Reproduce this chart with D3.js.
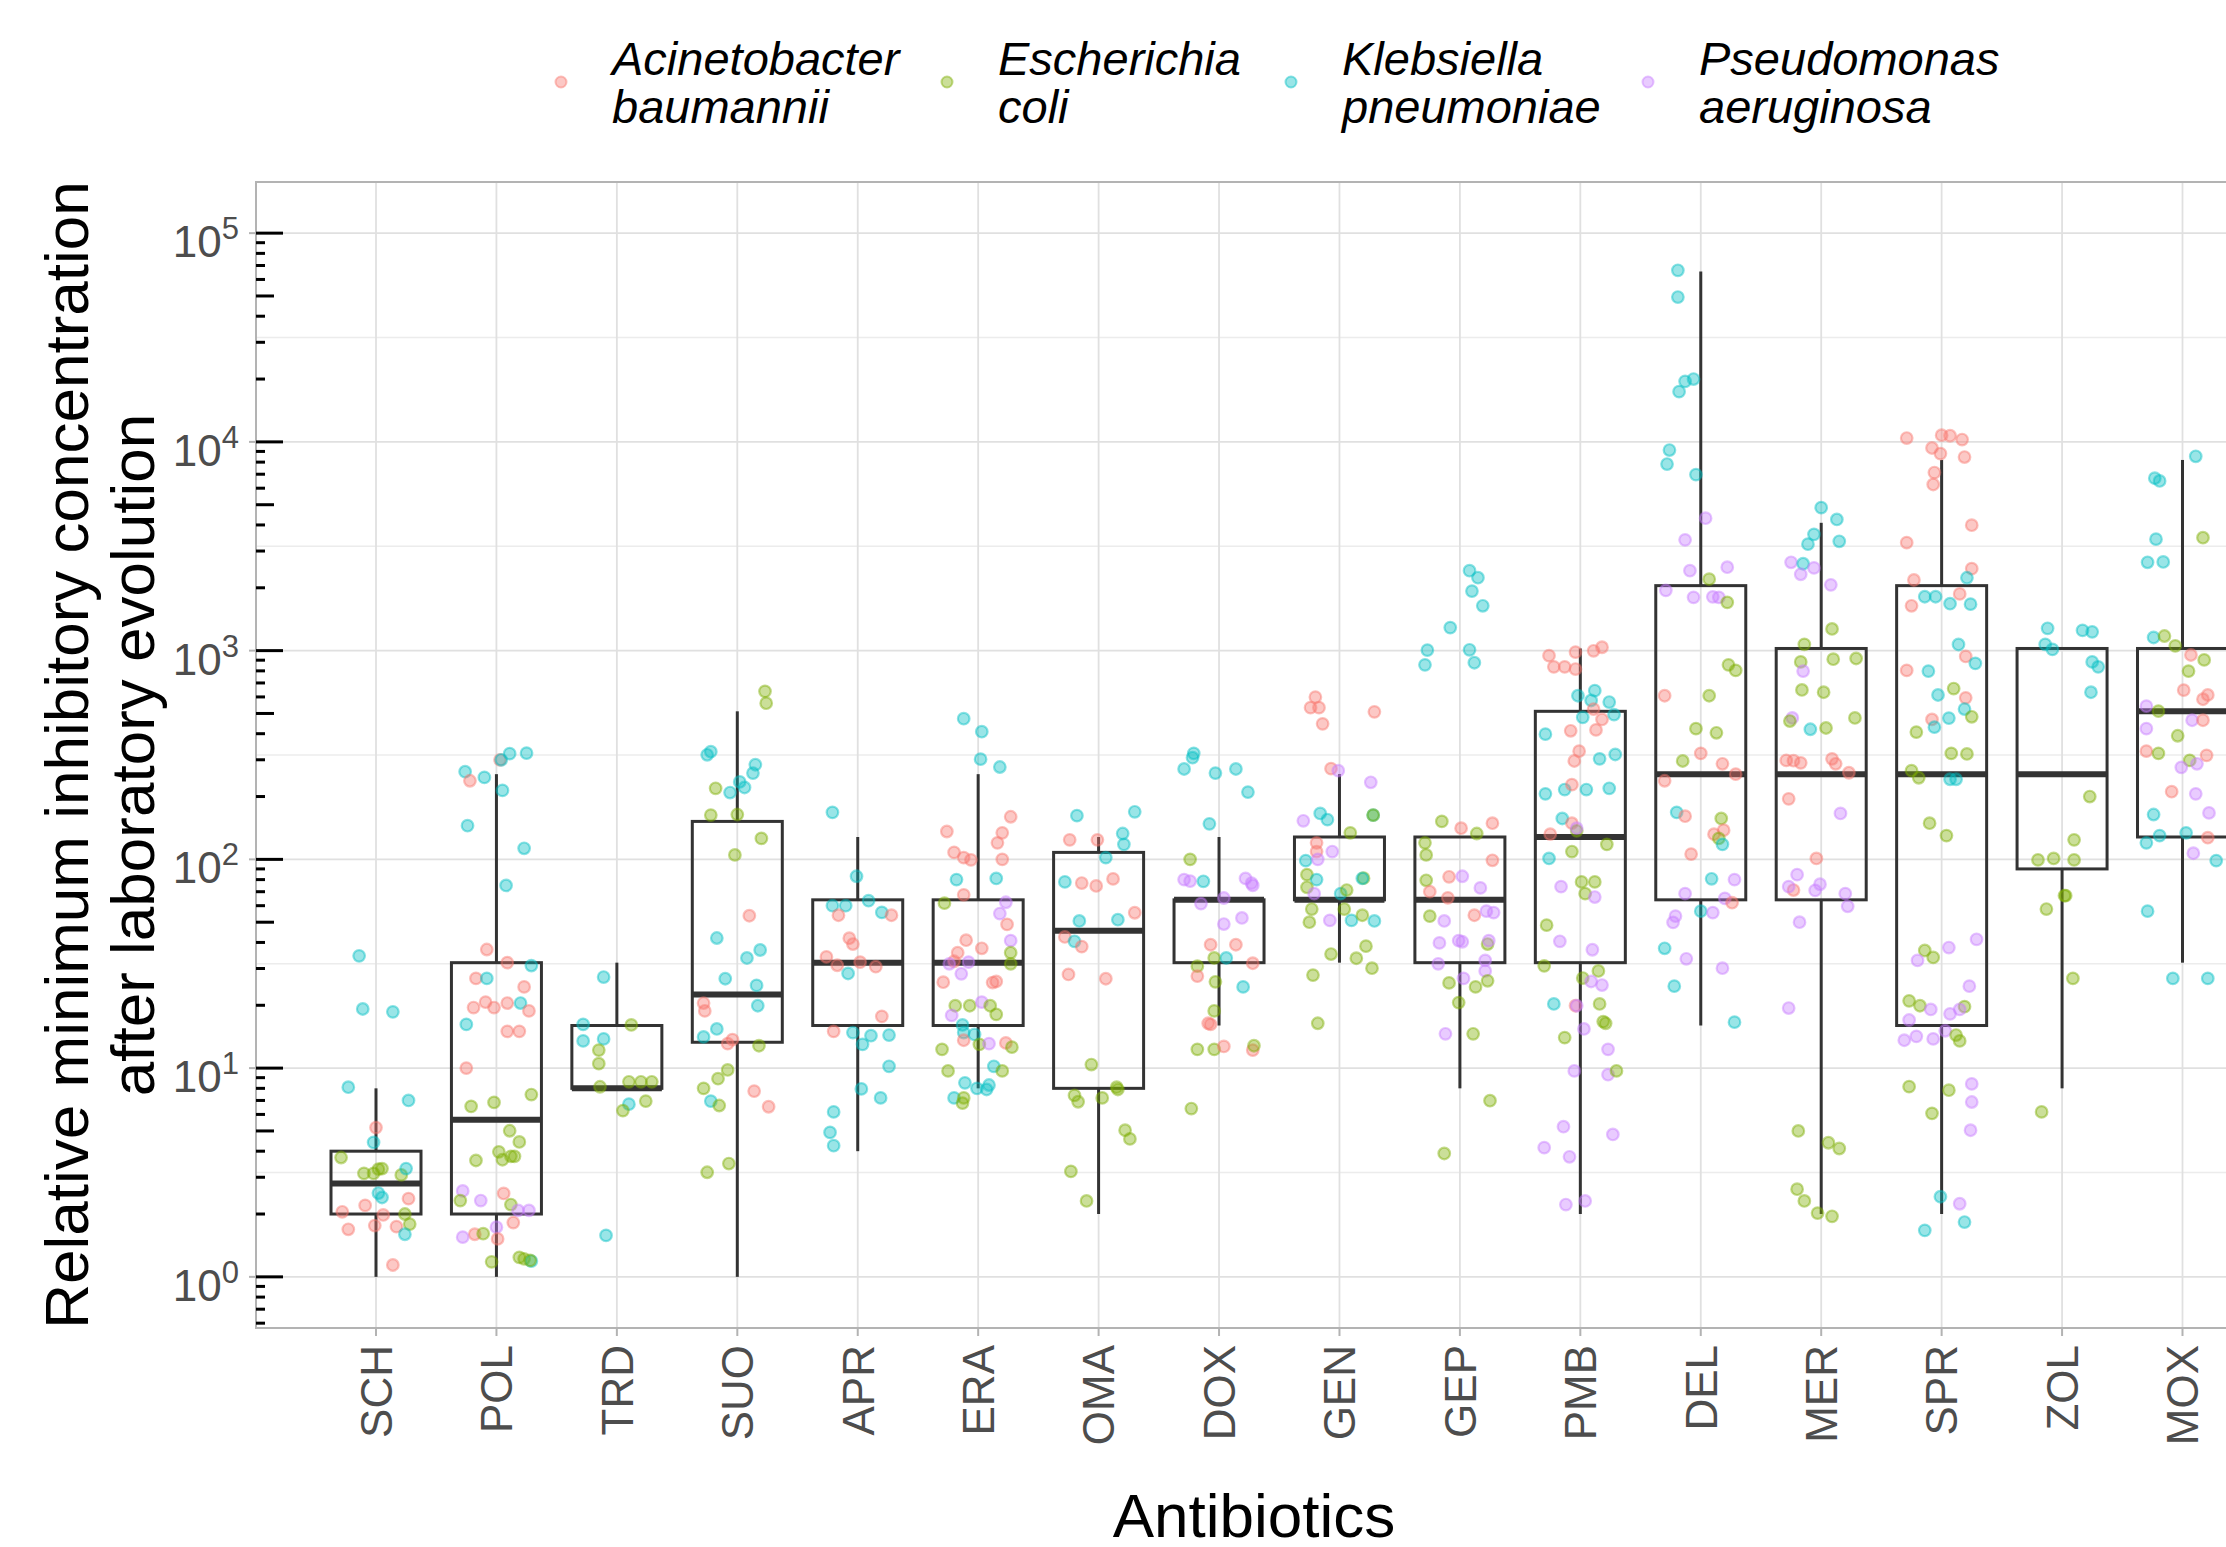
<!DOCTYPE html>
<html>
<head>
<meta charset="utf-8">
<script src="https://cdn.jsdelivr.net/npm/d3@7"></script>
<style>
    body { margin: 0; background: #fff; }
    svg { display: block; font-family: "Liberation Sans", Arial, sans-serif; }
</style>
</head>
<body>
<div id="chart"></div>
<script>
const antibiotics = ['SCH', 'POL', 'TRD', 'SUO', 'APR', 'ERA', 'OMA', 'DOX',
    'GEN', 'GEP', 'PMB', 'DEL', 'MER', 'SPR', 'ZOL', 'MOX']

// box statistics
const lowerWhisker = [1, 1, 8, 1, 4, 8, 2, 16, 32, 8, 2, 16, 2, 2, 8, 32]
const lowerQuartile = [2, 2, 8, 13.3, 16, 16, 8, 32, 64, 32, 32, 64, 64, 16, 90, 128]
const medians = [2.8, 5.66, 8, 22.5, 32, 32, 45.5, 64, 64, 64, 128, 256, 256, 256, 256, 512]
const upperQuartile = [4, 32, 16, 152, 64, 64, 108, 64, 128, 128, 512, 2048, 1024, 2048, 1024, 1024]
const upperWhisker = [8, 256, 32, 512, 128, 256, 128, 128, 256, 128, 1024, 65536, 4096, 8192, 1024, 8192]

const speciesKeys = ['A', 'E', 'K', 'P']
const speciesNames = [['Acinetobacter', 'baumannii'], ['Escherichia', 'coli'],
    ['Klebsiella', 'pneumoniae'], ['Pseudomonas', 'aeruginosa']]
const speciesColors = ['#F8766D', '#7CAE00', '#00BFC4', '#C77CFF']

// [species, relative MIC, jitter offset in category units]
const pointsSCH = [['K', 34.5, -0.14], ['K', 19.2, -0.11], ['K', 18.6, 0.14], ['K', 8.1, -0.23], ['K', 7.0, 0.27],
    ['A', 5.19, 0], ['K', 4.41, -0.02], ['E', 3.73, -0.29], ['E', 3.13, -0.10], ['E', 3.28, 0.02], ['E', 3.3, 0.05],
    ['E', 3.13, -0.02], ['E', 3.08, 0.21], ['K', 3.3, 0.25], ['K', 2.52, 0.02], ['K', 2.4, 0.05], ['A', 2.05, -0.28],
    ['A', 2.2, -0.09], ['A', 2.37, 0.27], ['A', 1.98, 0.06], ['A', 1.69, -0.23], ['A', 1.76, -0.01], ['A', 1.74, 0.17],
    ['E', 2.0, 0.24], ['E', 1.79, 0.28], ['K', 1.6, 0.24], ['A', 1.14, 0.14]]
const pointsPOL = [['K', 263, -0.26], ['A', 238, -0.22], ['K', 247, -0.10], ['A', 300, 0.03], ['K', 300, 0.04],
    ['K', 321, 0.11], ['K', 323, 0.25], ['K', 214, 0.05], ['K', 145, -0.24], ['K', 113, 0.23], ['K', 75, 0.08],
    ['A', 37, -0.08], ['A', 32, 0.09], ['K', 31, 0.29], ['A', 26.9, -0.17], ['K', 26.9, -0.08], ['A', 24.5, 0.23],
    ['A', 19.5, -0.19], ['A', 20.7, -0.09], ['A', 19.5, -0.02], ['A', 20.5, 0.09], ['K', 20.5, 0.2], ['A', 18.8, 0.27],
    ['K', 16.2, -0.25], ['A', 15, 0.09], ['A', 15, 0.19], ['A', 10, -0.25], ['E', 6.56, -0.21], ['E', 6.85, -0.02],
    ['E', 7.47, 0.29], ['E', 5.01, 0.11], ['E', 4.43, 0.19], ['E', 3.61, -0.17], ['E', 3.97, 0.02], ['E', 3.78, 0.12],
    ['E', 3.78, 0.15], ['E', 3.64, 0.05], ['P', 2.58, -0.28], ['A', 2.51, 0.06], ['E', 2.32, -0.30], ['P', 2.32, -0.13],
    ['E', 2.22, 0.12], ['P', 2.08, 0.18], ['P', 2.08, 0.27], ['A', 1.82, 0.14], ['P', 1.73, 0], ['A', 1.6, -0.18],
    ['E', 1.61, -0.11], ['P', 1.55, -0.28], ['A', 1.52, 0.01], ['E', 1.18, -0.04], ['E', 1.24, 0.19], ['E', 1.22, 0.23],
    ['K', 1.19, 0.29], ['E', 1.2, 0.28]]
const pointsTRD = [['K', 27.3, -0.11], ['K', 16.2, -0.28], ['E', 16.1, 0.12], ['K', 13.5, -0.28], ['K', 13.8, -0.11],
    ['E', 12.2, -0.15], ['E', 10.5, -0.15], ['E', 8.14, -0.14], ['E', 8.6, 0.10], ['E', 8.6, 0.2], ['E', 8.6, 0.29],
    ['E', 6.95, 0.24], ['K', 6.72, 0.10], ['E', 6.26, 0.05], ['K', 1.58, -0.09]]
const pointsSUO = [['E', 638, 0.23], ['E', 560, 0.24], ['K', 317, -0.25], ['K', 328, -0.22], ['K', 284, 0.15],
    ['K', 259, 0.13], ['E', 219, -0.18], ['K', 209, -0.06], ['K', 235, 0.02], ['K', 221, 0.06], ['E', 163, -0.22],
    ['E', 164, 0], ['E', 126, 0.20], ['E', 105, -0.02], ['A', 53.7, 0.10], ['K', 42, -0.17], ['K', 36.8, 0.19],
    ['K', 33.7, 0.08], ['K', 26.8, -0.10], ['K', 24.9, 0.16], ['A', 20.5, -0.28], ['A', 18.8, -0.27], ['K', 19.9, 0.17],
    ['K', 15.4, -0.17], ['K', 14.1, -0.28], ['A', 13.7, -0.04], ['A', 13.1, -0.08], ['E', 12.8, 0.18], ['E', 9.8, -0.08],
    ['E', 8.9, -0.16], ['E', 8.0, -0.28], ['K', 6.95, -0.22], ['E', 6.62, -0.15], ['A', 7.76, 0.14], ['A', 6.53, 0.26],
    ['E', 3.17, -0.25], ['E', 3.49, -0.07]]
const pointsAPR = [['K', 168, -0.21], ['K', 83, -0.01], ['K', 60, -0.21], ['K', 60, -0.10], ['K', 63.4, 0.09],
    ['K', 55.7, 0.20], ['A', 54, -0.16], ['A', 54, 0.28], ['A', 41.9, -0.07], ['A', 39.3, -0.04], ['A', 34.1, -0.26],
    ['A', 31.1, -0.17], ['A', 32.2, 0.02], ['A', 30.6, 0.15], ['K', 28.4, -0.08], ['A', 17.7, 0.20], ['A', 15, -0.20],
    ['K', 14.8, -0.04], ['K', 13, 0.04], ['K', 14.3, 0.11], ['K', 14.4, 0.26], ['K', 10.2, 0.26], ['K', 7.95, 0.03],
    ['K', 7.2, 0.19], ['K', 6.17, -0.20], ['K', 4.92, -0.23], ['K', 4.25, -0.20]]
const pointsERA = [['K', 472, -0.12], ['K', 409, 0.03], ['K', 302, 0.02], ['K', 277, 0.18], ['A', 160, 0.27],
    ['A', 136, -0.26], ['A', 134, 0.20], ['A', 120, 0.16], ['A', 108, -0.20], ['A', 102, -0.12], ['A', 99.5, -0.06],
    ['A', 100, 0.20], ['K', 80, -0.18], ['K', 81, 0.15], ['A', 67.6, -0.12], ['E', 61.7, -0.28], ['P', 62.3, 0.23],
    ['P', 55, 0.18], ['A', 48.8, 0.24], ['A', 41, -0.10], ['P', 40.8, 0.27], ['A', 37.5, 0.03], ['A', 35.7, -0.17],
    ['E', 35.7, 0.27], ['A', 32.5, -0.20], ['P', 31.6, -0.24], ['P', 32.2, -0.08], ['P', 28.3, -0.14], ['E', 31.6, 0.27],
    ['A', 25.8, -0.29], ['A', 25.7, 0.12], ['A', 26, 0.15], ['E', 19.9, -0.19], ['E', 19.9, -0.07], ['P', 20.7, 0.03],
    ['E', 19.9, 0.10], ['P', 17.9, -0.22], ['E', 18.1, 0.15], ['K', 16.1, -0.13], ['K', 14.8, -0.12], ['A', 13.6, -0.12],
    ['K', 14.5, -0.03], ['E', 13, 0.01], ['P', 13.1, 0.09], ['A', 13.2, 0.23], ['E', 12.6, 0.28], ['E', 12.3, -0.30],
    ['E', 9.7, -0.25], ['K', 10.2, 0.13], ['E', 9.7, 0.2], ['K', 8.5, -0.11], ['K', 8.0, -0.01], ['K', 8.3, 0.09],
    ['K', 7.9, 0.07], ['K', 7.2, -0.20], ['E', 6.8, -0.13], ['E', 7.2, -0.12]]
const pointsOMA = [['K', 162, -0.18], ['K', 169, 0.30], ['A', 124, -0.24], ['A', 124, -0.01], ['K', 133, 0.20],
    ['K', 118, 0.21], ['K', 102, 0.06], ['K', 78, -0.28], ['A', 77, -0.14], ['A', 74.6, -0.02], ['A', 80.6, 0.12],
    ['A', 55.5, 0.30], ['K', 50.7, -0.16], ['K', 51.4, 0.16], ['A', 42.5, -0.28], ['K', 40.5, -0.20], ['A', 38.2, -0.14],
    ['A', 28.1, -0.25], ['A', 26.8, 0.06], ['E', 10.4, -0.06], ['E', 8.1, 0.15], ['E', 7.9, 0.16], ['E', 7.4, -0.20],
    ['E', 6.9, -0.17], ['E', 7.2, 0.03], ['E', 5.04, 0.22], ['E', 4.58, 0.26], ['E', 3.2, -0.23], ['E', 2.31, -0.10]]
const pointsDOX = [['K', 322, -0.21], ['K', 307, -0.22], ['K', 271, -0.29], ['K', 259, -0.03], ['K', 271, 0.14],
    ['K', 210, 0.24], ['K', 148, -0.08], ['E', 100, -0.24], ['P', 80, -0.29], ['P', 78.7, -0.24], ['K', 78.5, -0.13],
    ['P', 81, 0.22], ['P', 75, 0.28], ['P', 77, 0.27], ['P', 65.3, 0.04], ['P', 61.4, -0.15], ['P', 52.4, 0.19],
    ['P', 49, 0.04], ['A', 39, -0.07], ['A', 39, 0.14], ['E', 33.7, -0.04], ['K', 33.7, 0.06], ['A', 31.8, 0.28],
    ['E', 30.8, -0.18], ['A', 27.6, -0.18], ['E', 25.9, -0.03], ['K', 24.5, 0.20], ['E', 18.8, -0.04], ['A', 16.4, -0.09],
    ['A', 16.2, -0.07], ['E', 12.3, -0.18], ['E', 12.3, -0.04], ['A', 12.7, 0.04], ['A', 12.2, 0.28], ['E', 12.8, 0.29],
    ['E', 6.4, -0.23]]
const pointsGEN = [['A', 599, -0.20], ['A', 533, -0.24], ['A', 533, -0.17], ['A', 446, -0.14], ['A', 509, 0.29],
    ['A', 272, -0.07], ['P', 266, -0.01], ['P', 234, 0.26], ['K', 166, -0.16], ['K', 155, -0.10], ['K', 163, 0.28],
    ['E', 163, 0.28], ['P', 153, -0.30], ['E', 134, 0.09], ['A', 120, -0.19], ['A', 109, -0.19], ['P', 109, -0.06],
    ['K', 98.6, -0.28], ['P', 100, -0.18], ['E', 84.5, -0.27], ['K', 80, -0.19], ['E', 81.3, 0.20], ['K', 81, 0.19],
    ['E', 73.5, -0.27], ['P', 68.5, -0.21], ['K', 68.5, 0.01], ['E', 71.3, 0.06], ['E', 57.8, -0.23], ['E', 57.8, 0.04],
    ['P', 51, -0.08], ['K', 51, 0.10], ['E', 54, 0.19], ['K', 50.7, 0.29], ['E', 50, -0.25], ['E', 35.2, -0.07],
    ['E', 33.6, 0.14], ['E', 38.4, 0.22], ['E', 30.1, 0.27], ['E', 27.9, -0.22], ['E', 16.4, -0.18]]
const pointsGEP = [['K', 2415, 0.08], ['K', 2235, 0.15], ['K', 1928, 0.10], ['K', 1640, 0.19], ['K', 1289, -0.08],
    ['K', 1006, -0.27], ['K', 1009, 0.08], ['K', 855, -0.29], ['K', 875, 0.12], ['E', 152, -0.15], ['A', 141, 0.01],
    ['A', 149, 0.27], ['E', 133, 0.14], ['E', 120, -0.29], ['E', 105, -0.28], ['A', 99, 0.27], ['A', 82.5, -0.09],
    ['P', 83, 0.02], ['E', 79.4, -0.28], ['A', 70, -0.25], ['A', 65.4, -0.10], ['P', 73, 0.17], ['E', 53.5, -0.25],
    ['A', 54, 0.12], ['P', 56.5, 0.22], ['P', 55.6, 0.28], ['P', 50.7, -0.13], ['P', 39.8, -0.17], ['P', 40.8, -0.01],
    ['P', 40.3, 0.02], ['E', 39.3, 0.23], ['P', 40.8, 0.24], ['P', 31.6, -0.18], ['P', 32.8, 0.21], ['P', 29.2, 0.21],
    ['P', 26.9, 0.03], ['E', 25.6, -0.09], ['E', 24.5, 0.13], ['E', 26.2, 0.23], ['E', 20.6, -0.01], ['P', 14.6, -0.12],
    ['E', 14.6, 0.11], ['E', 6.98, 0.25], ['E', 3.9, -0.13]]
const pointsPMB = [['A', 946, -0.26], ['A', 984, -0.04], ['A', 998, 0.11], ['A', 1038, 0.18], ['A', 836, -0.22],
    ['A', 836, -0.13], ['A', 816, -0.04], ['K', 608, -0.02], ['K', 643, 0.12], ['K', 567, 0.24], ['K', 577, 0.09],
    ['A', 525, 0.11], ['A', 468, 0.18], ['A', 417, 0.13], ['K', 479, 0.02], ['K', 494, 0.28], ['K', 398, -0.29],
    ['A', 413, -0.08], ['A', 330, -0.01], ['K', 318, 0.29], ['A', 296, -0.05], ['K', 303, 0.16], ['K', 206, -0.29],
    ['K', 216, -0.13], ['A', 228, -0.07], ['K', 216, 0.05], ['K', 219, 0.24], ['K', 157, -0.15], ['A', 149, -0.07],
    ['E', 137, -0.03], ['A', 132, -0.25], ['E', 118, 0.22], ['P', 141, -0.03], ['K', 101, -0.26], ['E', 109, -0.07],
    ['E', 78, 0.01], ['E', 78, 0.12], ['E', 68.5, 0.04], ['P', 74, -0.16], ['P', 66, 0.12], ['E', 48.4, -0.28],
    ['P', 40.5, -0.17], ['P', 36.9, 0.10], ['E', 30.9, -0.30], ['E', 29.2, 0.15], ['E', 27, 0.02], ['P', 26, 0.09],
    ['P', 25, 0.18], ['K', 20.3, -0.22], ['A', 19.9, -0.04], ['P', 19.9, -0.03], ['E', 20.3, 0.16], ['E', 16.7, 0.19],
    ['E', 16.4, 0.21], ['P', 15.4, 0.03], ['E', 14, -0.13], ['P', 12.3, 0.23], ['P', 9.7, -0.05], ['P', 9.3, 0.23],
    ['E', 9.7, 0.30], ['P', 5.24, -0.14], ['P', 4.16, -0.30], ['P', 4.81, 0.27], ['P', 3.76, -0.09], ['P', 2.22, -0.12],
    ['P', 2.31, 0.04]]
const pointsDEL = [['K', 66370, -0.19], ['K', 49400, -0.19], ['K', 17400, -0.18], ['K', 19500, -0.13], ['K', 20000, -0.06],
    ['K', 9140, -0.26], ['K', 7830, -0.28], ['K', 6970, -0.04], ['P', 4310, 0.04], ['P', 3393, -0.13], ['P', 2510, 0.22],
    ['P', 2415, -0.09], ['E', 2199, 0.07], ['P', 1944, -0.29], ['P', 1800, -0.06], ['P', 1810, 0.10], ['P', 1800, 0.15],
    ['E', 1703, 0.22], ['E', 855, 0.23], ['E', 804, 0.29], ['A', 608, -0.30], ['E', 608, 0.07], ['E', 423, -0.04],
    ['E', 404, 0.13], ['A', 322, 0], ['E', 296, -0.15], ['A', 287, 0.18], ['A', 256, 0.29], ['A', 238, -0.30],
    ['K', 168, -0.20], ['A', 161, -0.13], ['E', 157, 0.17], ['A', 132, 0.11], ['A', 138, 0.19], ['E', 126, 0.15],
    ['K', 118, 0.18], ['A', 106, -0.08], ['K', 80.7, 0.09], ['P', 80, 0.28], ['P', 68.5, -0.13], ['K', 56.5, 0],
    ['P', 65, 0.20], ['A', 62, 0.26], ['P', 55.6, 0.10], ['P', 53.5, -0.21], ['P', 49.9, -0.23], ['K', 37.5, -0.30],
    ['P', 33.4, -0.12], ['P', 30.1, 0.18], ['K', 24.7, -0.22], ['K', 16.6, 0.28]]
const pointsMER = [['K', 4840, 0], ['K', 4250, 0.13], ['K', 3606, -0.06], ['K', 3237, -0.11], ['K', 3340, 0.15],
    ['P', 2650, -0.25], ['K', 2608, -0.15], ['P', 2322, -0.17], ['P', 2490, -0.06], ['P', 2066, 0.08], ['E', 1270, 0.09],
    ['E', 1072, -0.14], ['E', 883, -0.17], ['E', 910, 0.10], ['E', 917, 0.29], ['P', 798, -0.15], ['E', 648, -0.16],
    ['E', 632, 0.02], ['P', 476, -0.24], ['E', 460, -0.26], ['K', 420, -0.09], ['E', 426, 0.04], ['E', 476, 0.28],
    ['A', 298, -0.29], ['A', 297, -0.23], ['A', 290, -0.17], ['A', 303, 0.09], ['A', 287, 0.12], ['A', 260, 0.23],
    ['A', 195, -0.27], ['P', 166, 0.16], ['A', 101, -0.04], ['P', 84.5, -0.20], ['A', 71.3, -0.23], ['P', 74, -0.27],
    ['P', 76, -0.01], ['P', 71, -0.05], ['P', 68.5, 0.20], ['P', 59.6, 0.22], ['P', 50, -0.18], ['P', 19.4, -0.27],
    ['E', 5, -0.19], ['E', 4.39, 0.06], ['E', 4.12, 0.15], ['E', 2.63, -0.20], ['E', 2.31, -0.14], ['E', 2.02, -0.03],
    ['E', 1.95, 0.09]]
const pointsSPR = [['A', 10430, -0.29], ['A', 10760, 0], ['A', 10700, 0.07], ['A', 10260, 0.17], ['A', 9350, -0.08],
    ['A', 8790, -0.01], ['A', 8460, 0.19], ['A', 7130, -0.06], ['A', 6250, -0.07], ['A', 3990, 0.25], ['A', 3290, -0.29],
    ['A', 2470, 0.25], ['A', 2180, -0.23], ['K', 2234, 0.21], ['A', 1640, -0.25], ['K', 1812, -0.14], ['K', 1812, -0.05],
    ['K', 1678, 0.07], ['K', 1670, 0.24], ['A', 1870, 0.15], ['K', 1070, 0.14], ['A', 804, -0.29], ['A', 938, 0.20],
    ['K', 869, 0.28], ['K', 798, -0.11], ['K', 613, -0.03], ['E', 658, 0.10], ['A', 594, 0.20], ['K', 525, 0.19],
    ['E', 482, 0.25], ['A', 468, -0.08], ['K', 430, -0.06], ['K', 475, 0.06], ['E', 407, -0.21], ['E', 322, 0.08],
    ['E', 320, 0.21], ['E', 266, -0.25], ['E', 246, -0.19], ['K', 242, 0.07], ['K', 242, 0.12], ['E', 149, -0.10],
    ['E', 130, 0.04], ['E', 36.6, -0.14], ['E', 33.9, -0.07], ['P', 32.8, -0.20], ['P', 37.8, 0.06], ['P', 41.4, 0.29],
    ['P', 24.7, 0.23], ['E', 21, -0.27], ['E', 19.9, -0.18], ['P', 19.1, -0.09], ['P', 18.2, 0.07], ['E', 19.7, 0.19],
    ['P', 19.1, 0.15], ['P', 17, -0.27], ['P', 13.6, -0.31], ['P', 14.2, -0.21], ['P', 13.8, -0.07], ['P', 15.1, 0.03],
    ['E', 13.5, 0.15], ['E', 14.4, 0.12], ['E', 8.15, -0.27], ['E', 7.84, 0.06], ['P', 8.4, 0.25], ['P', 6.88, 0.25],
    ['E', 6.07, -0.08], ['P', 5.04, 0.24], ['K', 2.42, -0.01], ['P', 2.24, 0.15], ['K', 1.67, -0.14], ['K', 1.83, 0.19]]
const pointsZOL = [['K', 1279, -0.12], ['K', 1071, -0.14], ['K', 1014, -0.08], ['K', 1250, 0.17], ['K', 1230, 0.25],
    ['K', 883, 0.25], ['K', 836, 0.30], ['K', 632, 0.24], ['E', 200, 0.23], ['E', 124, 0.10], ['E', 99.4, -0.20],
    ['E', 101, -0.07], ['E', 99.4, 0.10], ['E', 67, 0.02], ['E', 67, 0.03], ['E', 57.8, -0.13], ['E', 26.9, 0.09],
    ['E', 6.17, -0.17]]
const pointsMOX = [['K', 8530, 0.11], ['K', 6700, -0.23], ['K', 6500, -0.19], ['K', 3420, -0.22], ['E', 3475, 0.17],
    ['K', 2650, -0.29], ['K', 2660, -0.16], ['K', 1156, -0.24], ['E', 1175, -0.15], ['E', 1054, -0.06], ['A', 953, 0.07],
    ['E', 798, 0.05], ['E', 903, 0.18], ['A', 647, 0.01], ['A', 585, 0.17], ['A', 613, 0.21], ['P', 542, -0.30],
    ['E', 513, -0.20], ['P', 423, -0.30], ['P', 464, 0.08], ['A', 464, 0.17], ['E', 391, -0.04], ['A', 330, -0.30],
    ['E', 322, -0.20], ['E', 298, 0.06], ['P', 276, -0.01], ['P', 287, 0.12], ['A', 315, 0.20], ['A', 211, -0.09],
    ['P', 206, 0.11], ['K', 164, -0.24], ['P', 167, 0.22], ['K', 120, -0.30], ['K', 130, -0.19], ['K', 134, 0.03],
    ['A', 127, 0.21], ['P', 107, 0.09], ['K', 98.6, 0.28], ['K', 56.5, -0.29], ['K', 26.9, -0.08], ['K', 26.9, 0.21]]

const pointsByAntibiotic = [pointsSCH, pointsPOL, pointsTRD, pointsSUO, pointsAPR, pointsERA, pointsOMA, pointsDOX,
    pointsGEN, pointsGEP, pointsPMB, pointsDEL, pointsMER, pointsSPR, pointsZOL, pointsMOX]

const yTickExponents = [0, 1, 2, 3, 4, 5]

const width = 2226
const height = 1547
const panel = { left: 256, top: 182, right: 2262, bottom: 1328 }

const svg = d3.select('#chart').append('svg')
    .attr('width', width)
    .attr('height', height)

const x = d3.scalePoint()
    .domain(antibiotics)
    .range([376, 2182.5])
const step = x.step()
const boxWidth = 90

const y = d3.scaleLog()
    .domain([Math.pow(10, -0.245), Math.pow(10, 5.245)])
    .range([panel.bottom, panel.top])

const color = d3.scaleOrdinal().domain(speciesKeys).range(speciesColors)

// grid
const grid = svg.append('g')
const minor = d3.range(-1, 6).map((e) => Math.pow(10, e + 0.5)).filter((v) => v > y.domain()[0] && v < y.domain()[1])
grid.selectAll('.minor').data(minor).enter().append('line')
    .attr('x1', panel.left).attr('x2', panel.right)
    .attr('y1', (d) => y(d)).attr('y2', (d) => y(d))
    .attr('stroke', '#ececec').attr('stroke-width', 1.3)
grid.selectAll('.major').data(yTickExponents).enter().append('line')
    .attr('x1', panel.left).attr('x2', panel.right)
    .attr('y1', (d) => y(Math.pow(10, d))).attr('y2', (d) => y(Math.pow(10, d)))
    .attr('stroke', '#e0e0e0').attr('stroke-width', 1.8)
grid.selectAll('.vert').data(antibiotics).enter().append('line')
    .attr('x1', (d) => x(d)).attr('x2', (d) => x(d))
    .attr('y1', panel.top).attr('y2', panel.bottom)
    .attr('stroke', '#e0e0e0').attr('stroke-width', 1.8)

// boxes
const boxes = svg.append('g')
    .selectAll('g')
    .data(antibiotics)
    .enter().append('g')
boxes.append('line')
    .attr('x1', (d) => x(d)).attr('x2', (d) => x(d))
    .attr('y1', (d, i) => y(upperWhisker[i])).attr('y2', (d, i) => y(upperQuartile[i]))
boxes.append('line')
    .attr('x1', (d) => x(d)).attr('x2', (d) => x(d))
    .attr('y1', (d, i) => y(lowerQuartile[i])).attr('y2', (d, i) => y(lowerWhisker[i]))
boxes.append('rect')
    .attr('x', (d) => x(d) - boxWidth / 2)
    .attr('width', boxWidth)
    .attr('y', (d, i) => y(upperQuartile[i]))
    .attr('height', (d, i) => y(lowerQuartile[i]) - y(upperQuartile[i]))
    .attr('fill', 'none')
boxes.append('line')
    .attr('class', 'median')
    .attr('x1', (d) => x(d) - boxWidth / 2).attr('x2', (d) => x(d) + boxWidth / 2)
    .attr('y1', (d, i) => y(medians[i])).attr('y2', (d, i) => y(medians[i]))
boxes.selectAll('line, rect')
    .attr('stroke', '#333333')
    .attr('stroke-width', 3)
boxes.select('.median').attr('stroke-width', 6)

// jittered points
const pts = []
pointsByAntibiotic.forEach((list, i) => {
    list.forEach((p) => pts.push({ ab: antibiotics[i], sp: p[0], v: p[1], j: p[2] }))
})
svg.append('g')
    .selectAll('circle')
    .data(pts)
    .enter().append('circle')
    .attr('cx', (d) => x(d.ab) + d.j * step)
    .attr('cy', (d) => y(d.v))
    .attr('r', 5.8)
    .attr('fill', (d) => color(d.sp))
    .attr('fill-opacity', 0.4)
    .attr('stroke', (d) => color(d.sp))
    .attr('stroke-opacity', 0.45)
    .attr('stroke-width', 2.2)

// panel border
svg.append('rect')
    .attr('x', panel.left).attr('y', panel.top)
    .attr('width', panel.right - panel.left).attr('height', panel.bottom - panel.top)
    .attr('fill', 'none').attr('stroke', '#b3b3b3').attr('stroke-width', 2)

// log ticks inside the panel
const logTicks = []
d3.range(-1, 6).forEach((e) => {
    d3.range(1, 10).forEach((k) => {
        const v = k * Math.pow(10, e)
        if (v > y.domain()[0] && v < y.domain()[1]) logTicks.push({ v: v, len: k === 1 ? 27 : k === 5 ? 18 : 9 })
    })
})
svg.append('g')
    .selectAll('line')
    .data(logTicks)
    .enter().append('line')
    .attr('x1', panel.left).attr('x2', (d) => panel.left + d.len)
    .attr('y1', (d) => y(d.v)).attr('y2', (d) => y(d.v))
    .attr('stroke', '#000').attr('stroke-width', 3)

// axis ticks
svg.append('g').selectAll('line').data(yTickExponents).enter().append('line')
    .attr('x1', panel.left - 7).attr('x2', panel.left)
    .attr('y1', (d) => y(Math.pow(10, d))).attr('y2', (d) => y(Math.pow(10, d)))
    .attr('stroke', '#b3b3b3').attr('stroke-width', 2)
svg.append('g').selectAll('line').data(antibiotics).enter().append('line')
    .attr('x1', (d) => x(d)).attr('x2', (d) => x(d))
    .attr('y1', panel.bottom).attr('y2', panel.bottom + 8)
    .attr('stroke', '#b3b3b3').attr('stroke-width', 2)

// y tick labels
const yLabels = svg.append('g')
    .selectAll('text')
    .data(yTickExponents)
    .enter().append('text')
    .attr('x', 239)
    .attr('y', (d) => y(Math.pow(10, d)) + 24)
    .attr('text-anchor', 'end')
    .attr('fill', '#4d4d4d')
yLabels.append('tspan').attr('font-size', 44).text('10')
yLabels.append('tspan').attr('font-size', 31).attr('dy', -18).text((d) => d)

// x tick labels
svg.append('g')
    .selectAll('text')
    .data(antibiotics)
    .enter().append('text')
    .attr('transform', (d) => 'translate(' + x(d) + ', ' + (panel.bottom + 17) + ') rotate(-90)')
    .attr('text-anchor', 'end')
    .attr('dy', '0.36em')
    .attr('font-size', 44)
    .attr('fill', '#4d4d4d')
    .text((d) => d)

// axis titles
svg.append('text')
    .attr('x', 1254).attr('y', 1537)
    .attr('text-anchor', 'middle')
    .attr('font-size', 62)
    .text('Antibiotics')
const yTitle = ['Relative minimum inhibitory concentration', 'after laboratory evolution']
svg.append('g')
    .selectAll('text')
    .data(yTitle)
    .enter().append('text')
    .attr('transform', (d, i) => 'translate(' + (88 + i * 66) + ', ' + ((panel.top + panel.bottom) / 2) + ') rotate(-90)')
    .attr('text-anchor', 'middle')
    .attr('font-size', 62)
    .text((d) => d)

// legend
const legendDotX = [561, 947, 1291, 1648]
const legend = svg.append('g')
    .selectAll('g')
    .data(speciesKeys)
    .enter().append('g')
    .attr('transform', (d, i) => 'translate(' + legendDotX[i] + ', 0)')
legend.append('circle')
    .attr('cx', 0).attr('cy', 82).attr('r', 5.5)
    .attr('fill', (d) => color(d)).attr('fill-opacity', 0.4)
    .attr('stroke', (d) => color(d)).attr('stroke-opacity', 0.45).attr('stroke-width', 2)
const legendText = legend.append('text')
    .attr('font-size', 47)
    .attr('font-style', 'italic')
legendText.append('tspan')
    .attr('x', 51).attr('y', 75)
    .text((d, i) => speciesNames[i][0])
legendText.append('tspan')
    .attr('x', 51).attr('y', 123)
    .text((d, i) => speciesNames[i][1])
</script>
</body>
</html>
